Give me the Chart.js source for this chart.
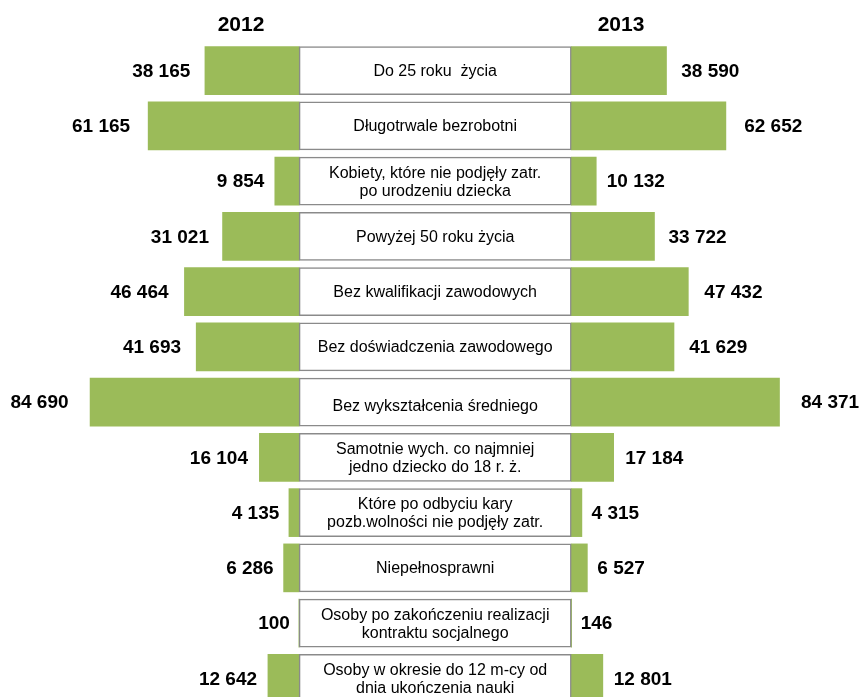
<!DOCTYPE html>
<html>
<head>
<meta charset="utf-8">
<script src="https://cdn.jsdelivr.net/npm/chart.js@4/dist/chart.umd.min.js"></script>
<style>
  html, body { margin: 0; padding: 0; background: #fff; overflow: hidden; }
  #wrap { width: 860px; height: 697px; overflow: hidden; }
</style>
</head>
<body>
<div id="wrap"><canvas id="chart" width="860" height="706"></canvas></div>
<script>
// groups of unemployed, value for 2012 (left) and 2013 (right)
var categories = [
  "Do 25 roku  życia",
  "Długotrwale bezrobotni",
  "Kobiety, które nie podjęły zatr.\npo urodzeniu dziecka",
  "Powyżej 50 roku życia",
  "Bez kwalifikacji zawodowych",
  "Bez doświadczenia zawodowego",
  "Bez wykształcenia średniego",
  "Samotnie wych. co najmniej\njedno dziecko do 18 r. ż.",
  "Które po odbyciu kary\npozb.wolności nie podjęły zatr.",
  "Niepełnosprawni",
  "Osoby po zakończeniu realizacji\nkontraktu socjalnego",
  "Osoby w okresie do 12 m-cy od\ndnia ukończenia nauki"
];
var years = ["2012", "2013"];
var values2012 = [38165, 61165, 9854, 31021, 46464, 41693, 84690, 16104, 4135, 6286, 100, 12642];
var values2013 = [38590, 62652, 10132, 33722, 47432, 41629, 84371, 17184, 4315, 6527, 146, 12801];

// half width of the centre label box, in data units
var GAP = 55120;
var green = "#9BBB59";
var font = "'Liberation Sans', Arial, sans-serif";

function fmt(n) {
  return String(n).replace(/\B(?=(\d{3})+(?!\d))/g, " ");
}

var labelPlugin = {
  id: "butterflyLabels",
  afterDatasetsDraw: function (chart) {
    var ctx = chart.ctx;
    var xs = chart.scales.x, ys = chart.scales.y;
    ctx.save();
    ctx.fillStyle = "#000";
    ctx.textBaseline = "middle";

    // year headers
    ctx.font = "bold 21px " + font;
    ctx.textAlign = "center";
    ctx.fillText(years[0], 241, 25);
    ctx.fillText(years[1], 621, 25);

    categories.forEach(function (cat, i) {
      var y = ys.getPixelForValue(i);

      // text in the box
      ctx.font = "16px " + font;
      ctx.textAlign = "center";
      var lines = cat.split("\n");
      var lh = 18;
      var dy = lines.length === 1 && i === 6 ? 4 : 1;
      lines.forEach(function (ln, j) {
        ctx.fillText(ln, xs.getPixelForValue(0), y + (j - (lines.length - 1) / 2) * lh + dy);
      });

      // values
      ctx.font = "bold 19px " + font;
      var lx = xs.getPixelForValue(-GAP - values2012[i]);
      var lLen = xs.getPixelForValue(-GAP) - lx;
      ctx.textAlign = "right";
      ctx.fillText(fmt(values2012[i]), lx - (9 + 0.06 * lLen), y + 1);

      var rx = xs.getPixelForValue(GAP + values2013[i]);
      var rLen = rx - xs.getPixelForValue(GAP);
      ctx.textAlign = "left";
      ctx.fillText(fmt(values2013[i]), rx + (9 + 0.06 * rLen), y + 1);
    });
    ctx.restore();
  }
};

new Chart(document.getElementById("chart"), {
  type: "bar",
  data: {
    labels: categories,
    datasets: [
      {
        label: "box",
        data: categories.map(function () { return [-GAP, GAP]; }),
        backgroundColor: "#ffffff",
        borderColor: "#8a8a8a",
        borderWidth: 1.5,
        borderSkipped: false
      },
      {
        label: years[0],
        data: values2012.map(function (v) { return [-GAP - v, -GAP]; }),
        backgroundColor: green,
        borderWidth: 0
      },
      {
        label: years[1],
        data: values2013.map(function (v) { return [GAP, GAP + v]; }),
        backgroundColor: green,
        borderWidth: 0
      }
    ]
  },
  options: {
    indexAxis: "y",
    responsive: false,
    animation: false,
    maintainAspectRatio: false,
    layout: { padding: { top: 43, bottom: 0, left: 0, right: 0 } },
    datasets: { bar: { grouped: false, barThickness: 48 } },
    scales: {
      x: { type: "linear", min: -176300, max: 172100, display: false },
      y: { display: false, offset: true }
    },
    plugins: {
      legend: { display: false },
      tooltip: { enabled: false }
    }
  },
  plugins: [labelPlugin]
});
</script>
</body>
</html>
